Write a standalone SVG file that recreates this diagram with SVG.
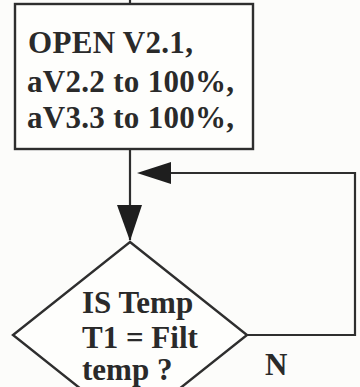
<svg xmlns="http://www.w3.org/2000/svg" width="360" height="387" viewBox="0 0 360 387">
<style>
.ln{stroke:#2e2e2e;stroke-width:2.2;fill:none}
.shape{stroke:#2e2e2e;stroke-width:2.4;fill:#fefefc}
.t{font-family:"Liberation Serif","Times New Roman",serif;font-weight:bold;font-size:31px;fill:#2a2a2a}
.ah{fill:#1e1e1e}
</style>
<rect width="360" height="387" fill="#fcfcfa"/>
<g id="connectors">
<line class="ln" x1="130" y1="0" x2="130" y2="4"/>
<line class="ln" x1="130" y1="149" x2="130" y2="240"/>
<polyline class="ln" points="247,335 355,335 355,173 140,173"/>
<polygon class="ah" points="137,173 171,162 171,184"/>
<polygon class="ah" points="130,241 117,205 142,205"/>
<text class="t" x="265" y="375" font-size="28">N</text>
</g>
<g id="open-valves">
<rect class="shape" x="15" y="4" width="238" height="145"/>
<text class="t" x="28" y="53" letter-spacing="0.3">OPEN V2.1,</text>
<text class="t" x="27" y="92" letter-spacing="0.3">aV2.2 to 100%,</text>
<text class="t" x="27" y="128" letter-spacing="0.3">aV3.3 to 100%,</text>
</g>
<g id="is-temp">
<polygon class="shape" points="130,242 247,335 130,428 13,335"/>
<text class="t" x="82" y="313">IS Temp</text>
<text class="t" x="82" y="348">T1 = Filt</text>
<text class="t" x="82" y="380">temp ?</text>
</g>
</svg>
